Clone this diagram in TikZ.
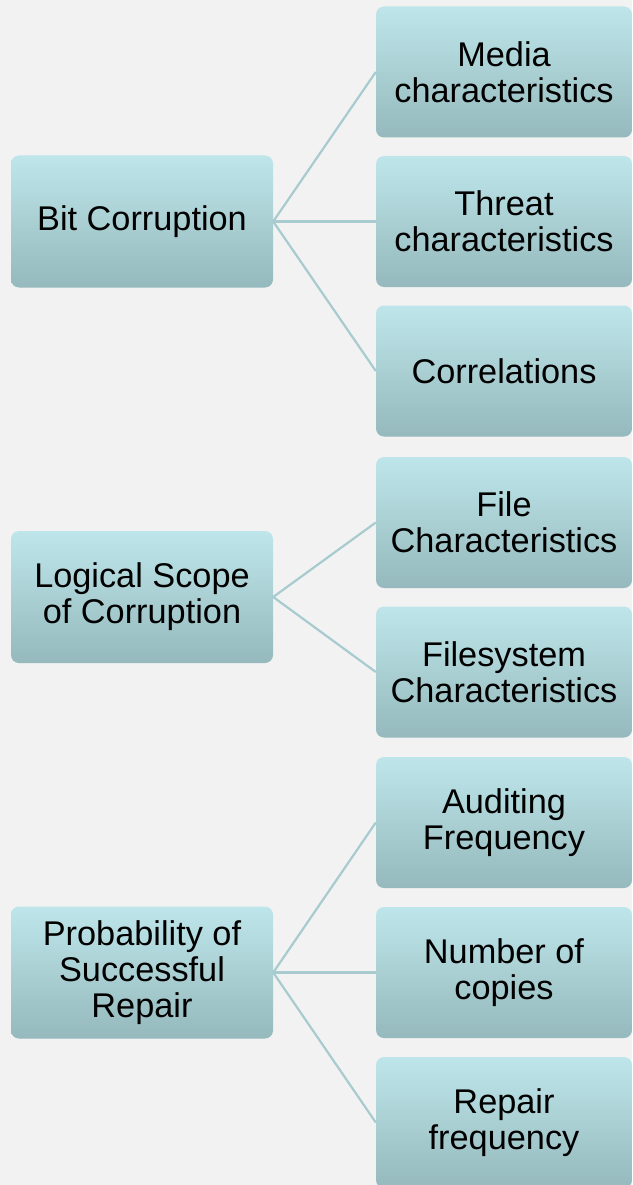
\documentclass[tikz,border=0pt]{standalone}
\usepackage{fontspec}
\setmainfont{Liberation Sans}
\definecolor{bgc}{HTML}{F2F2F2}
\definecolor{boxtop}{HTML}{BEE6EA}
\definecolor{boxbot}{HTML}{95B9BD}
\definecolor{linec}{HTML}{A8CBCF}
\tikzset{
  x=1pt, y=-1pt,
  basebox/.style={shade, top color=boxtop, bottom color=boxbot, rounded corners=8pt,
    align=center, inner sep=0pt, text=black,
    font=\fontsize{34.3}{36}\selectfont},
  leftbox/.style={basebox, minimum width=262pt, minimum height=132pt},
  rightbox/.style={basebox, minimum width=256pt, minimum height=131pt},
  conn/.style={draw=linec, line width=2.2pt}
}
\begin{document}
\begin{tikzpicture}
\fill[bgc] (0,0) rectangle (632,1185);
\useasboundingbox (0,0) rectangle (632,1185);
% left boxes
\node[leftbox] (bit) at (142,221.5) {Bit Corruption};
\node[leftbox] (log) at (142,597) {Logical Scope\\of Corruption};
\node[leftbox] (prob) at (142,972.5) {Probability of\\Successful\\Repair};
% right boxes
\node[rightbox] (media) at (504,72) {Media\\characteristics};
\node[rightbox] (threat) at (504,221.5) {Threat\\characteristics};
\node[rightbox] (corr) at (504,371) {Correlations};
\node[rightbox] (file) at (504,522.5) {File\\Characteristics};
\node[rightbox] (fsys) at (504,672) {Filesystem\\Characteristics};
\node[rightbox] (audit) at (504,822.5) {Auditing\\Frequency};
\node[rightbox] (num) at (504,972.5) {Number of\\copies};
\node[rightbox] (rep) at (504,1122.5) {Repair\\frequency};
% connectors
\draw[conn] (bit.east) -- (media.west);
\draw[conn] (bit.east) -- (threat.west);
\draw[conn] (bit.east) -- (corr.west);
\draw[conn] (log.east) -- (file.west);
\draw[conn] (log.east) -- (fsys.west);
\draw[conn] (prob.east) -- (audit.west);
\draw[conn] (prob.east) -- (num.west);
\draw[conn] (prob.east) -- (rep.west);
\end{tikzpicture}
\end{document}
